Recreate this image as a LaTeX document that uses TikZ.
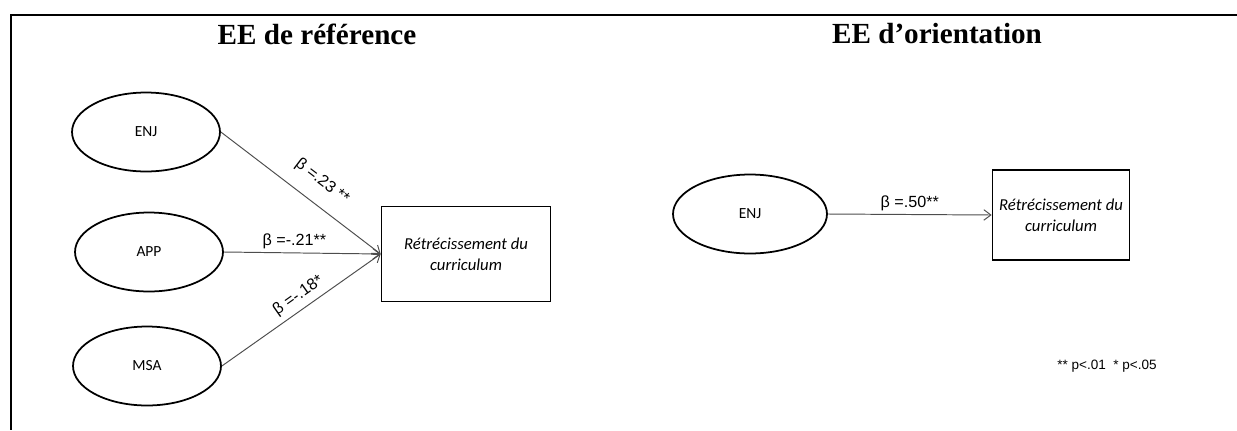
\documentclass[tikz,border=0pt]{standalone}
\usepackage{fontspec}
\setmainfont{Liberation Serif}
\newfontfamily\calfont{Carlito}
\newfontfamily\arialfont{Liberation Sans}
\usetikzlibrary{shapes.geometric, arrows.meta, positioning, calc}
\definecolor{pathgray}{HTML}{4D4D4D}

\begin{document}
\begin{tikzpicture}[
  x=0.02cm, y=-0.02cm,
  latent/.style={
    ellipse, draw=black, line width=1pt,
    minimum width=2.96cm, minimum height=1.58cm,
    font=\calfont\fontsize{8.8}{10}\selectfont, inner sep=0pt
  },
  outcome/.style={
    rectangle, draw=black, line width=1pt,
    font=\calfont\itshape\fontsize{9.5}{12}\selectfont, align=center
  },
  title/.style={font=\bfseries\fontsize{16.6}{20}\selectfont},
  coef/.style={font=\arialfont\fontsize{9.2}{11}\selectfont, inner sep=2pt},
  arr/.style={-{Straight Barb[length=4pt,width=6pt]}, draw=pathgray, line width=0.55pt}
]
  \useasboundingbox (0,0) rectangle (1237,430);
  % frame
  \draw[line width=1.3pt] (1237,15) -- (11,15) -- (11,430);

  \node[title] (ttl1) at (317,34) {EE de référence};
  \node[title] (ttl2) at (937,34) {EE d’orientation};

  % left model
  \node[latent] (enj) at (146,132) {ENJ};
  \node[latent] (app) at (149,252) {APP};
  \node[latent] (msa) at (147,366) {MSA};
  \node[outcome, minimum width=3.38cm, minimum height=1.9cm] (out1) at (466,254)
    {Rétrécissement du\\curriculum};

  \draw[arr] (enj.east) -- (out1.west)
    node[coef, sloped, above, pos=0.55, yshift=6pt] {β =.23 **};
  \draw[arr] (app.east) -- (out1.west)
    node[coef, above, pos=0.45] {β =-.21**};
  \draw[arr] (msa.east) -- (out1.west)
    node[coef, sloped, above, pos=0.53, yshift=1pt] {β =-.18*};

  % right model
  \node[latent, minimum width=3.08cm] (enjb) at (750,214) {ENJ};
  \node[outcome, minimum width=2.74cm, minimum height=1.8cm] (out2) at (1061,215)
    {Rétrécissement du\\curriculum};
  \draw[arr] (enjb.east) -- (out2.west)
    node[coef, above, pos=0.5] {β =.50**};

  \node[font=\arialfont\fontsize{7.7}{9}\selectfont] (note) at (1107,366)
    {** p<.01 \ * p<.05};
\end{tikzpicture}
\end{document}
